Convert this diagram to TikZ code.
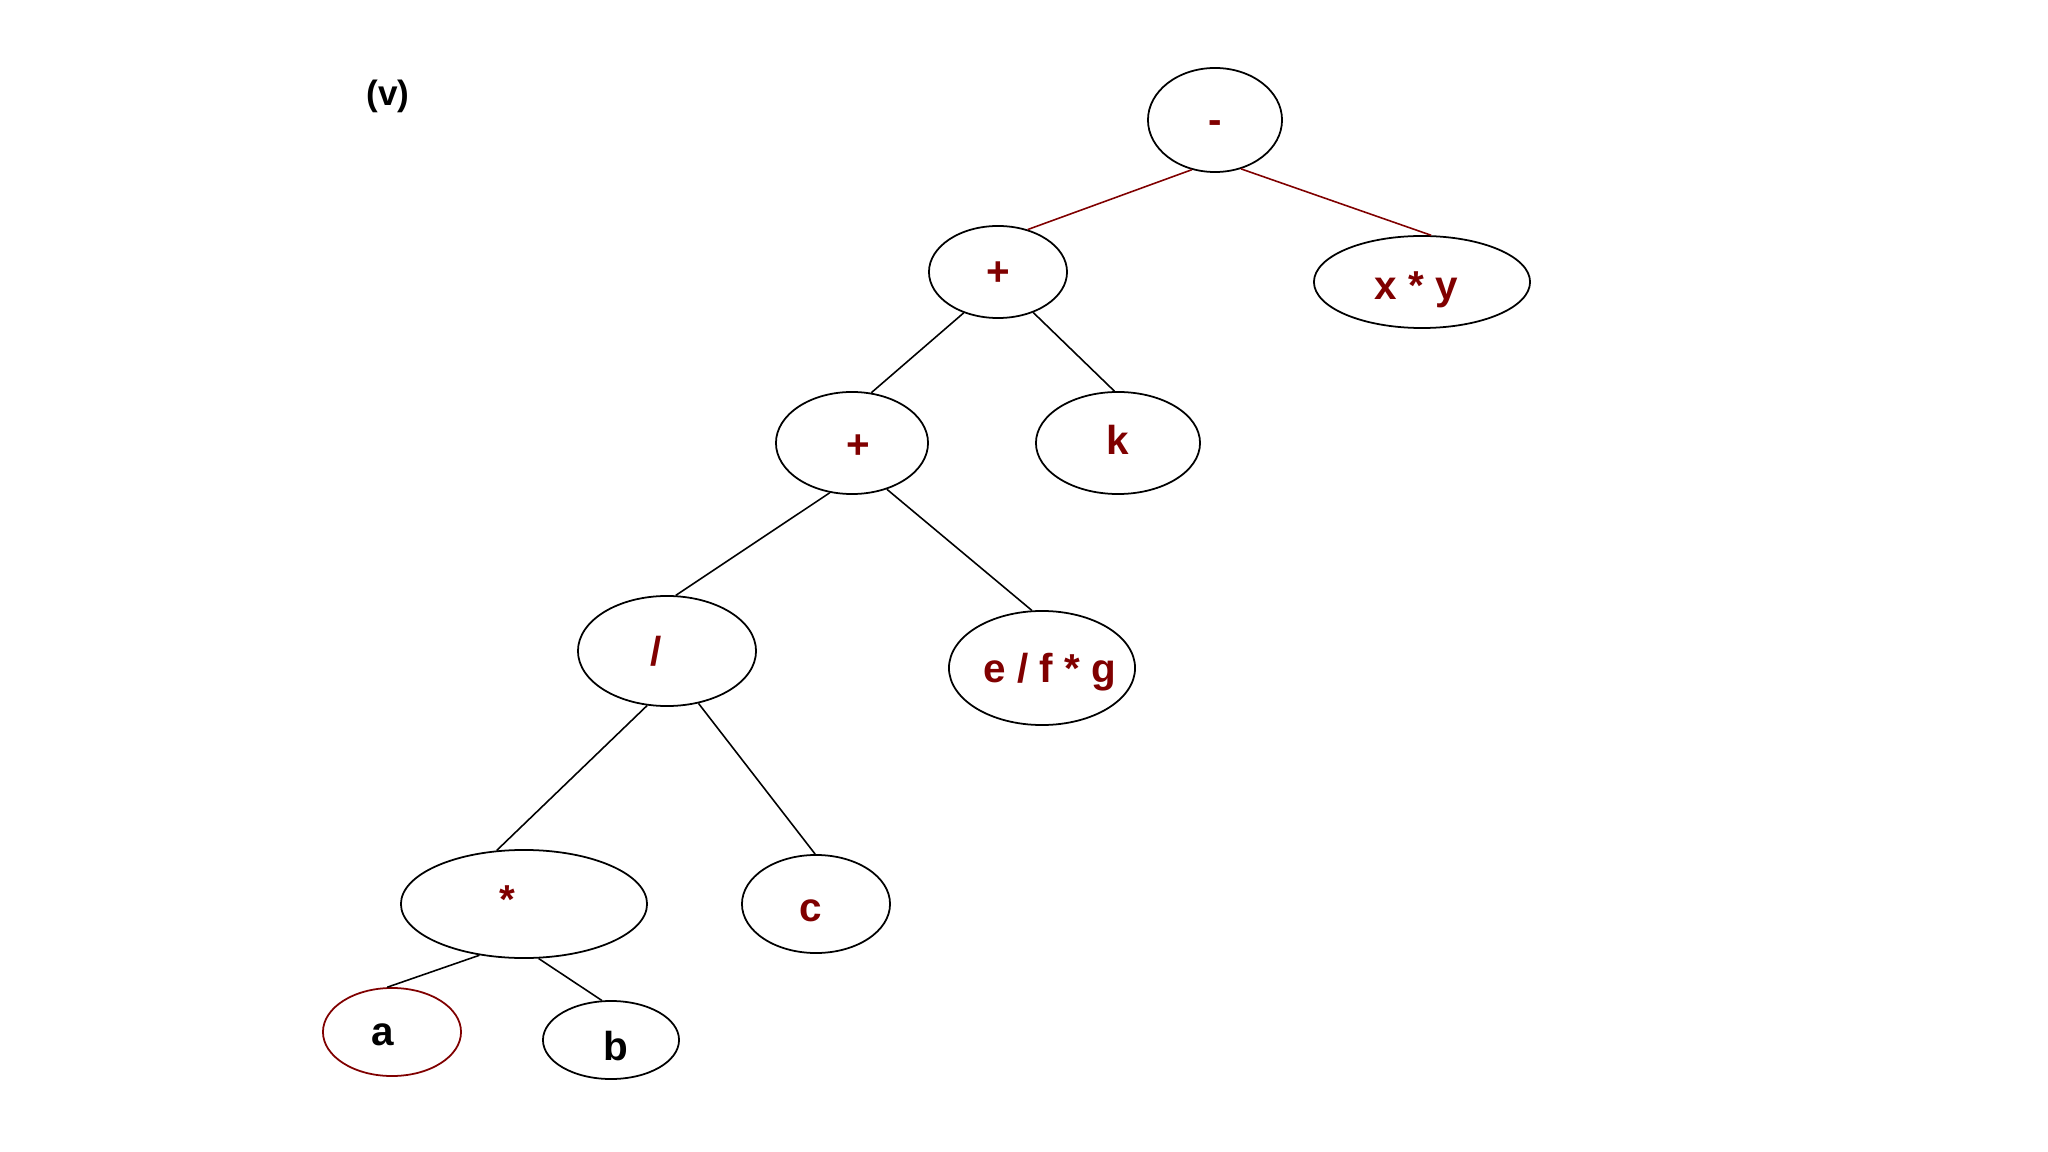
\documentclass[tikz,border=0pt]{standalone}
\usepackage{fontspec}
\setmainfont{Liberation Sans}
\usetikzlibrary{shapes.geometric}
\definecolor{dred}{RGB}{128,0,0}
\tikzset{
  ell/.style={ellipse, draw=black, line width=0.5pt, inner sep=0pt},
  lbl/.style={font=\bfseries\fontsize{11.5}{12}\selectfont, text=dred, inner sep=0pt},
  blbl/.style={font=\bfseries\fontsize{11.5}{12}\selectfont, text=black, inner sep=0pt},
  edge/.style={draw=black, line width=0.45pt},
  redge/.style={draw=dred, line width=0.45pt}
}
\begin{document}
\begin{tikzpicture}[x=0.01cm, y=-0.01cm]
\useasboundingbox (0,0) rectangle (2048,1152);
\fill[white] (0,0) rectangle (2048,1152);

\node[font=\bfseries\fontsize{10}{12}\selectfont, inner sep=0pt] (title) at (388,96) {(v)};

\node[ell, minimum width=1.34cm, minimum height=1.04cm,
      label={[lbl,yshift=-0.07cm]center:-}] (root) at (1215,120) {};
\node[ell, minimum width=1.38cm, minimum height=0.92cm,
      label={[lbl,yshift=-0.02cm]center:+}] (p1) at (998,272) {};
\node[ell, minimum width=2.16cm, minimum height=0.92cm,
      label={[lbl,xshift=-0.06cm,yshift=-0.08cm]center:x * y}] (xy) at (1422,282) {};
\node[ell, minimum width=1.52cm, minimum height=1.02cm,
      label={[lbl,xshift=0.06cm,yshift=-0.04cm]center:+}] (p2) at (852,443) {};
\node[ell, minimum width=1.64cm, minimum height=1.02cm,
      label={[lbl,yshift=0.03cm]center:k}] (k) at (1118,443) {};
\node[ell, minimum width=1.78cm, minimum height=1.10cm,
      label={[lbl,xshift=-0.11cm]center:/}] (dv) at (667,651) {};
\node[ell, minimum width=1.86cm, minimum height=1.14cm,
      label={[lbl,xshift=0.08cm,yshift=-0.04cm]center:e / f * g}] (efg) at (1042,668) {};
\node[ell, minimum width=2.46cm, minimum height=1.08cm,
      label={[lbl,xshift=-0.17cm,yshift=0.04cm]center:*}] (mul) at (524,904) {};
\node[ell, minimum width=1.48cm, minimum height=0.98cm,
      label={[lbl,xshift=-0.05cm,yshift=-0.07cm]center:c}] (c) at (816,904) {};
\node[ell, draw=dred, minimum width=1.38cm, minimum height=0.88cm,
      label={[blbl,xshift=-0.09cm,yshift=-0.03cm]center:a}] (a) at (392,1032) {};
\node[ell, minimum width=1.36cm, minimum height=0.78cm,
      label={[blbl,xshift=0.05cm,yshift=-0.06cm]center:b}] (b) at (611,1040) {};

\draw[redge] (root.245) -- (p1.55);
\draw[redge] (root.298) -- (xy.79.5);
\draw[edge] (p1.230) -- (p2.69.6);
\draw[edge] (p1.311.5) -- (k.94.5);
\draw[edge] (p2.246.4) -- (dv.81.6);
\draw[edge] (p2.307) -- (efg.100);
\draw[edge] (dv.250) -- (mul.117.4);
\draw[edge] (dv.301.6) -- (c.91);
\draw[edge] (mul.229.5) -- (a.96.6);
\draw[edge] (mul.285) -- (b.103);
\end{tikzpicture}
\end{document}
